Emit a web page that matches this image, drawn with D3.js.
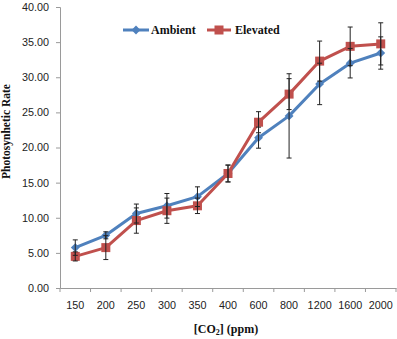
<!DOCTYPE html>
<html>
<head>
<meta charset="utf-8">
<script src="https://cdn.jsdelivr.net/npm/d3@7/dist/d3.min.js"></script>
<style>
  html, body { margin: 0; padding: 0; background: #fff; }
  svg { display: block; }
</style>
</head>
<body>
<svg id="chart" width="397" height="339"></svg>
<script>
const categories = ["150","200","250","300","350","400","600","800","1200","1600","2000"];
const ambient    = [5.75, 7.5, 10.6, 11.7, 13.0, 16.3, 21.4, 24.5, 29.05, 32.0, 33.45];
const elevated   = [4.5, 5.75, 9.6, 11.0, 11.7, 16.3, 23.6, 27.6, 32.3, 34.4, 34.75];
const ambientErr = [1.1, 0.5, 1.35, 1.75, 1.4, 1.2, 1.5, 6.0, 2.95, 2.1, 2.3];
const elevatedErr= [0.65, 1.7, 1.8, 1.8, 1.1, 1.2, 1.5, 2.2, 2.85, 2.75, 3.0];
const yTicks = [0, 5, 10, 15, 20, 25, 30, 35, 40];
const seriesNames = ["Ambient", "Elevated"];
const seriesColors = ["#4F81BD", "#C0504D"];

const svg = d3.select("#chart");
const mLeft = 60, mRight = 396, mTop = 7, mBottom = 288;

const x = d3.scaleBand().domain(categories).range([mLeft, mRight]).padding(0);
const y = d3.scaleLinear().domain([0, 40]).range([mBottom, mTop]);

const axisColor = "#9a9a9a";
const tickFont = "'Liberation Sans', Arial, sans-serif";

// Y axis
const yAxis = svg.append("g").attr("transform", `translate(${mLeft},0)`)
  .call(d3.axisLeft(y).tickValues(yTicks).tickFormat(d3.format(".2f")).tickSize(4).tickPadding(7));
yAxis.select(".domain").attr("stroke", axisColor);
yAxis.selectAll(".tick line").attr("stroke", axisColor);
yAxis.selectAll(".tick text").attr("fill", "#222").style("font-family", tickFont).style("font-size", "10.8px");

// X axis
const xAxis = svg.append("g").attr("transform", `translate(0,${mBottom})`)
  .call(d3.axisBottom(x).tickSize(0).tickPadding(13));
xAxis.select(".domain").attr("stroke", axisColor);
xAxis.selectAll(".tick text").attr("fill", "#222").style("font-family", tickFont).style("font-size", "10.8px");
const bounds = categories.map(c => x(c)).concat([x(categories[categories.length-1]) + x.bandwidth()]);
xAxis.selectAll(".bound").data(bounds).enter().append("line")
  .attr("x1", d => d).attr("x2", d => d).attr("y1", 0).attr("y2", 4)
  .attr("stroke", axisColor);

const cx = c => x(c) + x.bandwidth() / 2;

const datasets = [ambient, elevated];
const errs = [ambientErr, elevatedErr];

// Lines
datasets.forEach((vals, si) => {
  const line = d3.line().x((d, i) => cx(categories[i])).y(d => y(d));
  svg.append("path").datum(vals).attr("d", line)
    .attr("fill", "none").attr("stroke", seriesColors[si]).attr("stroke-width", 3)
    .attr("stroke-linejoin", "round");
});

// Markers
datasets.forEach((vals, si) => {
  const g = svg.append("g");
  vals.forEach((v, i) => {
    if (si === 0) {
      g.append("path")
        .attr("d", d3.symbol().type(d3.symbolDiamond2).size(50)())
        .attr("transform", `translate(${cx(categories[i])},${y(v)})`)
        .attr("fill", seriesColors[si]);
    } else {
      g.append("rect")
        .attr("x", cx(categories[i]) - 4.5).attr("y", y(v) - 4.5)
        .attr("width", 9).attr("height", 9)
        .attr("fill", seriesColors[si]);
    }
  });
});

// Error bars
datasets.forEach((vals, si) => {
  const g = svg.append("g").attr("stroke", "#222").attr("stroke-width", 1);
  vals.forEach((v, i) => {
    const xc = cx(categories[i]);
    const e = errs[si][i];
    const y1 = y(v + e), y2 = y(v - e);
    g.append("line").attr("x1", xc).attr("x2", xc).attr("y1", y1).attr("y2", y2);
    g.append("line").attr("x1", xc - 2.5).attr("x2", xc + 2.5).attr("y1", y1).attr("y2", y1);
    g.append("line").attr("x1", xc - 2.5).attr("x2", xc + 2.5).attr("y1", y2).attr("y2", y2);
  });
});

// Legend
const serif = "'Liberation Serif', 'Times New Roman', serif";
const legendItems = [{x1: 123, x2: 149, tx: 151}, {x1: 207, x2: 231, tx: 235}];
legendItems.forEach((it, si) => {
  const ly = 30;
  svg.append("line").attr("x1", it.x1).attr("x2", it.x2).attr("y1", ly).attr("y2", ly)
    .attr("stroke", seriesColors[si]).attr("stroke-width", 3);
  const mx = (it.x1 + it.x2) / 2;
  if (si === 0) {
    svg.append("path").attr("d", d3.symbol().type(d3.symbolDiamond2).size(50)())
      .attr("transform", `translate(${mx},${ly})`).attr("fill", seriesColors[si]);
  } else {
    svg.append("rect").attr("x", mx - 4.5).attr("y", ly - 4.5).attr("width", 9).attr("height", 9)
      .attr("fill", seriesColors[si]);
  }
  svg.append("text").attr("x", it.tx).attr("y", ly + 4)
    .style("font-family", serif).style("font-weight", "bold").style("font-size", "12px")
    .attr("fill", "#111").text(seriesNames[si]);
});

// Axis titles
const xt = svg.append("text").attr("x", 226).attr("y", 333).attr("text-anchor", "middle")
  .style("font-family", serif).style("font-weight", "bold").style("font-size", "12px").attr("fill", "#111");
xt.append("tspan").text("[CO");
xt.append("tspan").text("2").attr("dy", 2).style("font-size", "8px");
xt.append("tspan").text("] (ppm)").attr("dy", -2);

svg.append("text").attr("transform", "translate(10,131.5) rotate(-90)").attr("text-anchor", "middle")
  .style("font-family", serif).style("font-weight", "bold").style("font-size", "11.5px").attr("fill", "#111")
  .text("Photosynhetic Rate");
</script>
</body>
</html>
